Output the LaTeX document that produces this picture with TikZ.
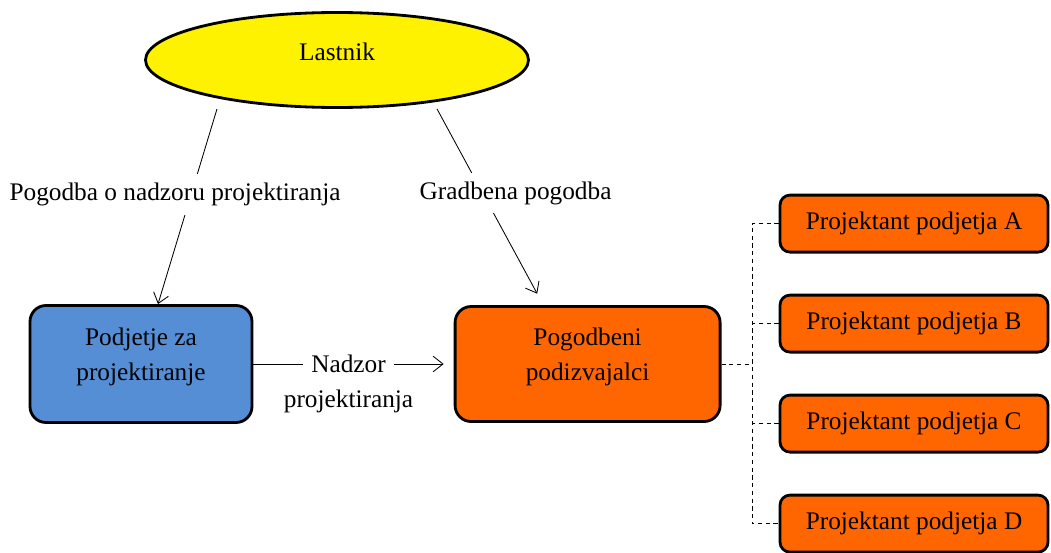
\documentclass[tikz,border=0pt]{standalone}
\usepackage{fontspec}
\setmainfont{Liberation Serif}
\usetikzlibrary{shapes.geometric,arrows.meta,positioning,calc}
\definecolor{boxblue}{RGB}{85,142,213}
\definecolor{boxorange}{RGB}{255,102,0}

\begin{document}
\begin{tikzpicture}[
  font=\fontsize{18}{25}\selectfont,
  box/.style={draw, line width=2pt, rounded corners=0.4cm, align=center, text depth=0.5cm},
  subbox/.style={draw, line width=2pt, rounded corners=0.25cm, fill=boxorange, minimum width=6.7cm, minimum height=1.425cm},
  lbl/.style={fill=white, inner xsep=0.2cm, inner ysep=0.22cm},
  arr/.style={-{Straight Barb[length=7pt,width=11pt]}, line width=0.6pt},
  dashline/.style={dashed, dash pattern=on 3pt off 2.5pt, line width=0.6pt}
]
\useasboundingbox (0,0) rectangle (26.275,-13.8);
\node[ellipse, draw, line width=2pt, fill=yellow, minimum width=9.575cm, minimum height=2.375cm, text depth=0.4cm] (lastnik) at (8.425,-1.5) {Lastnik};
\node[box, fill=boxblue, minimum width=5.55cm, minimum height=2.925cm] (podjetje) at (3.525,-9.1) {Podjetje za\\projektiranje};
\node[box, fill=boxorange, minimum width=6.625cm, minimum height=2.875cm] (pogodbeni) at (14.69,-9.1) {Pogodbeni\\podizvajalci};
\foreach \n [count=\i from 0] in {A,B,C,D}
  \node[subbox] (proj\n) at (22.85,-5.59-2.5*\i) {Projektant podjetja \n};
\draw[arr] ([xshift=-3cm]lastnik.south) -- node[lbl, pos=0.44, xshift=-0.4cm] {Pogodba o nadzoru projektiranja} ([xshift=0.425cm]podjetje.north);
\draw[arr] ([xshift=2.5cm]lastnik.south) -- node[lbl, pos=0.455, xshift=0.825cm] {Gradbena pogodba} ([xshift=-1.26cm,yshift=0.285cm]pogodbeni.north);
\draw[arr] (podjetje.east) -- node[lbl, inner ysep=0.1cm] (nadzor) {Nadzor} ([xshift=-0.25cm]pogodbeni.west);
\node[anchor=base] (nadzorb) at ([yshift=-0.875cm]nadzor.base) {projektiranja};
\coordinate (split) at (18.8,-9.1);
\draw[dashline] (pogodbeni.east) -- (split);
\draw[dashline] (projA.west) -| (split) |- (projD.west);
\draw[dashline] (projB.west) -- (split |- projB.west);
\draw[dashline] (projC.west) -- (split |- projC.west);
\end{tikzpicture}
\end{document}
